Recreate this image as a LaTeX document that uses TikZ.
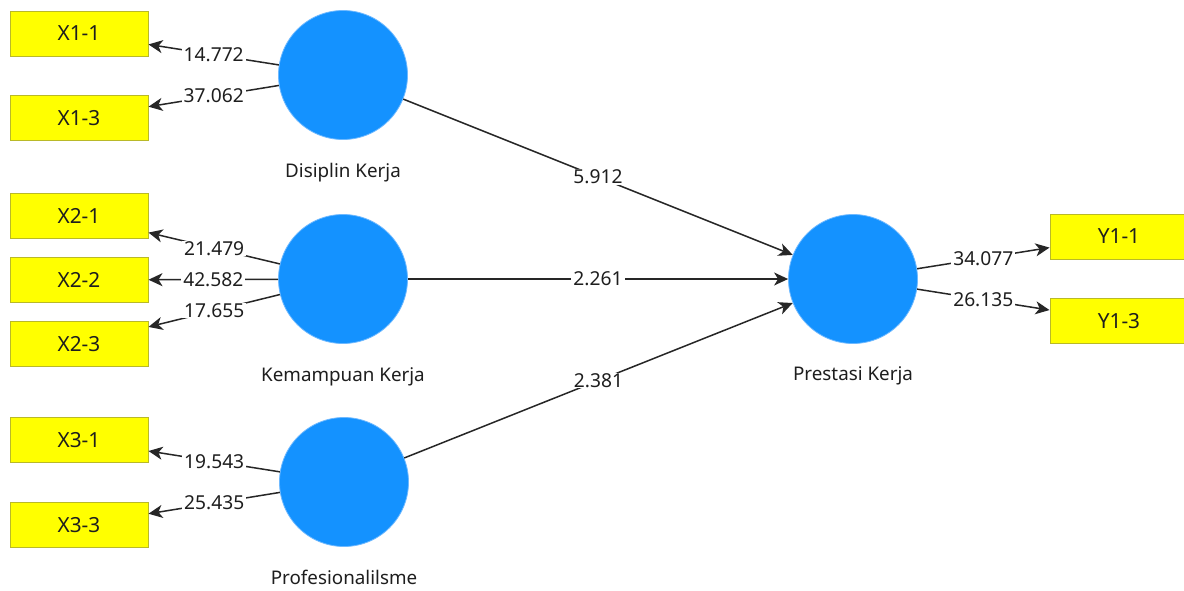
\documentclass[tikz,border=0pt]{standalone}
\usepackage{fontspec}
\setmainfont{Noto Sans}
\usetikzlibrary{arrows.meta}
\definecolor{lvblue}{RGB}{20,146,255}
\definecolor{lvedge}{RGB}{110,185,255}
\definecolor{boxfill}{RGB}{255,255,0}
\definecolor{boxedge}{RGB}{185,185,40}
\definecolor{txt}{RGB}{30,30,30}
\begin{document}
\begin{tikzpicture}[x=0.5pt,y=-0.5pt,
  ind/.style={draw=boxedge, fill=boxfill, line width=0.5pt, minimum width=69pt, minimum height=22.5pt, inner sep=0pt, text=txt, font=\fontsize{10.4}{12}\selectfont},
  lv/.style={circle, fill=lvblue, draw=lvedge, line width=0.4pt, minimum size=64.5pt, inner sep=0pt},
  lvlab/.style={text=txt, font=\fontsize{9.4}{11}\selectfont},
  con/.style={line width=0.75pt, draw=black!85, -{Stealth[length=7pt,width=6.5pt,inset=2pt]}},
  val/.style={fill=white, inner xsep=1pt, inner ysep=0.3pt, text=txt, font=\fontsize{9.6}{11}\selectfont}]
\useasboundingbox[fill=white] (0,0) rectangle (1184,590);
% indicators
\node[ind] (X11) at (79,33.5) {X1-1};
\node[ind] (X13) at (79,118) {X1-3};
\node[ind] (X21) at (79,216) {X2-1};
\node[ind] (X22) at (79,280) {X2-2};
\node[ind] (X23) at (79,344) {X2-3};
\node[ind] (X31) at (79,440) {X3-1};
\node[ind] (X33) at (79,525) {X3-3};
\node[ind] (Y11) at (1119,236.5) {Y1-1};
\node[ind] (Y13) at (1119,321) {Y1-3};
% latent variables
\node[lv] (D) at (343,75) {};
\node[lv] (K) at (343,279) {};
\node[lv] (P) at (344,482) {};
\node[lv] (PK) at (853,279) {};
\node[lvlab] (Dl) at (343,173) {Disiplin Kerja};
\node[lvlab] (Kl) at (343,377) {Kemampuan Kerja};
\node[lvlab] (Pl) at (344,577) {Profesionalilsme};
\node[lvlab] (PKl) at (853,376) {Prestasi Kerja};
% outer loadings
\draw[con] (D) -- node[val] {14.772} (X11);
\draw[con] (D) -- node[val] {37.062} (X13);
\draw[con] (K) -- node[val] {21.479} (X21);
\draw[con] (K) -- node[val] {42.582} (X22);
\draw[con] (K) -- node[val] {17.655} (X23);
\draw[con] (P) -- node[val] {19.543} (X31);
\draw[con] (P) -- node[val] {25.435} (X33);
\draw[con] (PK) -- node[val] {34.077} (Y11);
\draw[con] (PK) -- node[val] {26.135} (Y13);
% inner model
\draw[con] (D) -- node[val] {5.912} (PK);
\draw[con] (K) -- node[val] {2.261} (PK);
\draw[con] (P) -- node[val] {2.381} (PK);
\end{tikzpicture}
\end{document}
